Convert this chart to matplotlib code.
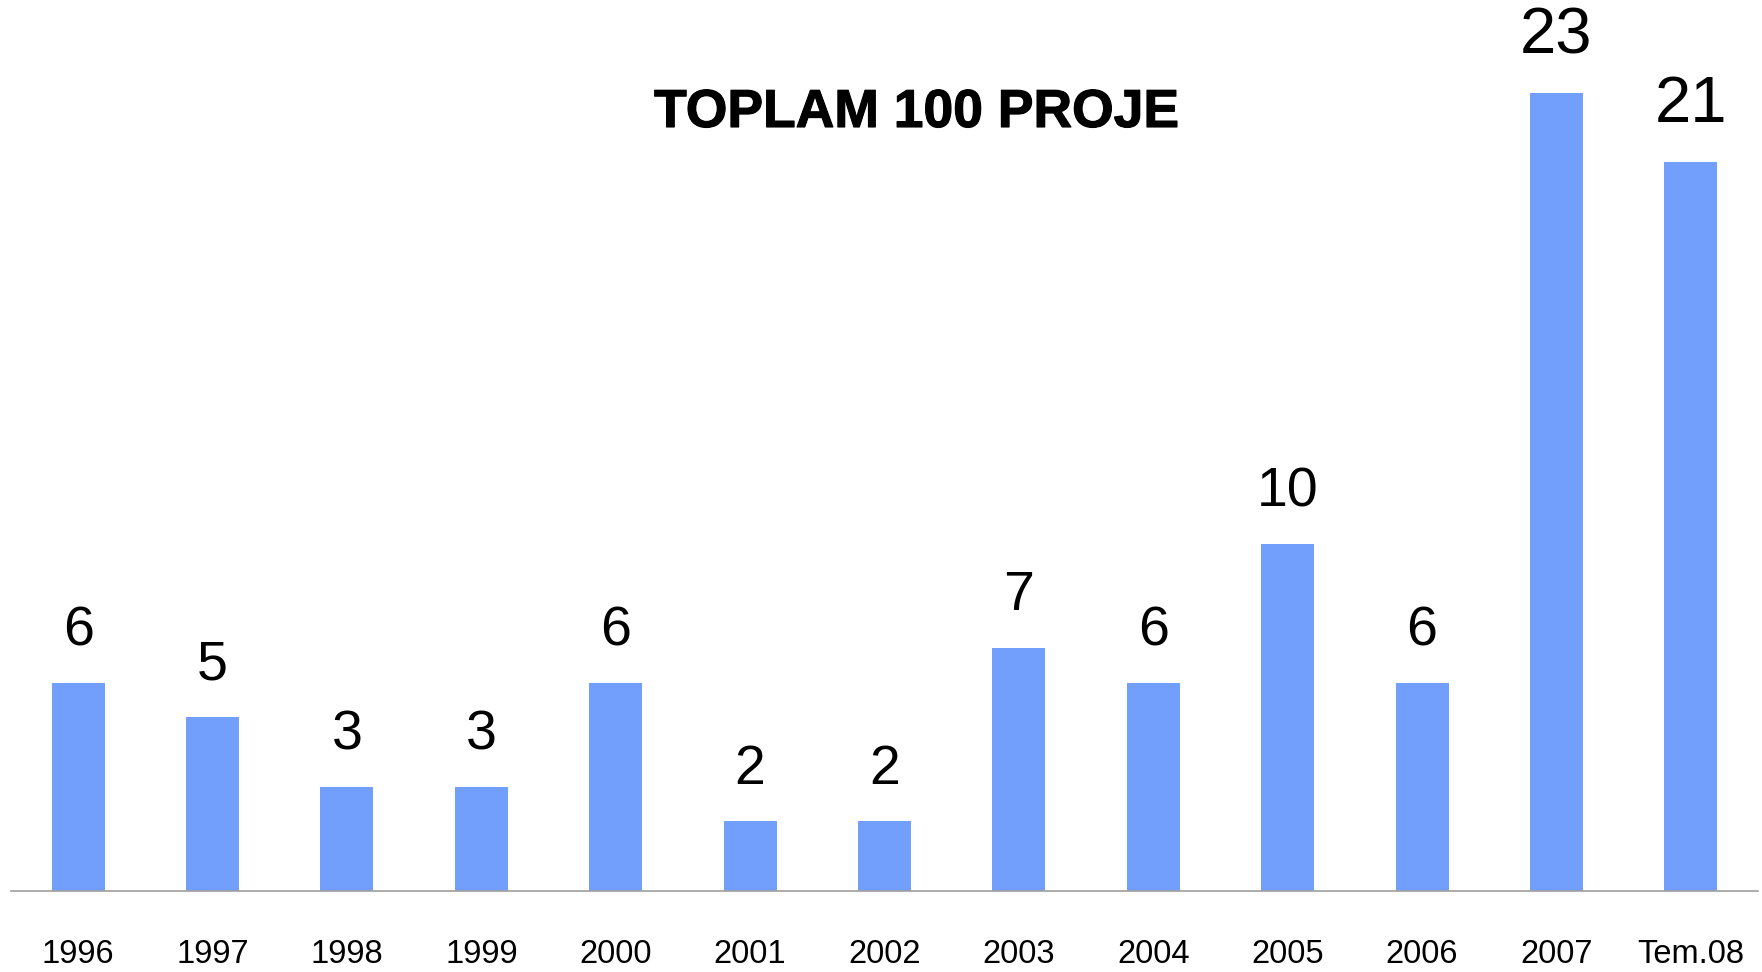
import matplotlib
matplotlib.use("Agg")
import matplotlib.pyplot as plt
import matplotlib.patheffects as pe

categories = ["1996", "1997", "1998", "1999", "2000", "2001", "2002",
              "2003", "2004", "2005", "2006", "2007", "Tem.08"]
values = [6, 5, 3, 3, 6, 2, 2, 7, 6, 10, 6, 23, 21]
title = "TOPLAM 100 PROJE"

plt.rcParams['font.family'] = ['Liberation Sans', 'DejaVu Sans']

W, H = 1762, 972
fig = plt.figure(figsize=(W / 100, H / 100), dpi=100)
x0, x1 = 11, 1758
base = 890.7
ax = fig.add_axes([x0 / W, (H - base) / H, (x1 - x0) / W, base / H])

xs = list(range(len(categories)))
bars = ax.bar(xs, values, width=0.394, color='#729FFC', zorder=2)
ax.set_xlim(-0.5, len(categories) - 0.5)
ax.set_ylim(0, 25.67)

for b, v in zip(bars, values):
    big = v >= 20
    ax.annotate(str(v), (b.get_x() + b.get_width() / 2, v),
                xytext=(0, 28.5 if big else 27.0), textcoords='offset points',
                ha='center', va='baseline', fontsize=47 if big else 40,
                color='black')

ax.set_xticks(xs)
ax.set_xticklabels(categories, fontsize=23.5)
ax.tick_params(axis='x', length=0, pad=35)
ax.set_yticks([])
for s in ['top', 'right', 'left']:
    ax.spines[s].set_visible(False)
ax.spines['bottom'].set_color('#a0a0a0')
ax.spines['bottom'].set_linewidth(1.2)
ax.patch.set_alpha(0)

fig.text(917 / W, 1 - 127 / H, title, ha='center', va='baseline',
         fontsize=38.5, fontweight='bold', color='black',
         path_effects=[pe.withStroke(linewidth=0.8, foreground='black')])

fig.savefig("out.png", dpi=100, facecolor='white')
